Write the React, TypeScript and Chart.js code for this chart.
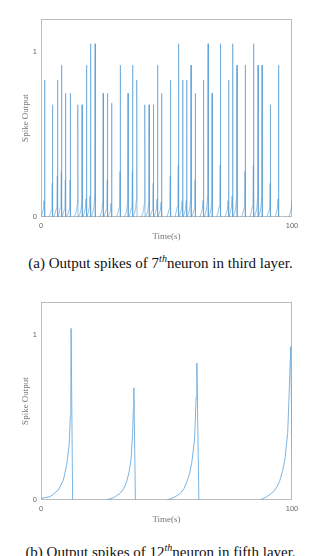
import React, { useEffect, useRef } from "react";
import { Chart, registerables } from "chart.js";

Chart.register(...registerables);

// ---------- data ----------
const X_TICKS = [0, 100];
const Y_TICKS = [0, 1];
const X_MIN = 0;
const X_MAX = 100;
const Y_MIN = 0;
const Y_MAX = 1.2;

// (a) 7th neuron, third layer: spike times (s) and peak outputs
const A_SPIKE_TIMES = [
  1.5, 4.6, 6.6, 8.2, 9.8, 11.7, 14.7, 16.4, 18.2, 19.8, 21.6, 24.8, 26.5, 28.2,
  31.6, 34.7, 36.5, 38.2, 41.4, 43.1, 44.8, 46.5, 48.1, 51.6, 54.8, 56.5, 58.1,
  59.8, 61.5, 64.8, 66.6, 68.2, 71.5, 74.8, 76.4, 78.1, 81.4, 84.7, 86.5, 88.1,
  91.4, 94.7, 100.25,
];
const A_SPIKE_PEAKS = [
  0.83, 0.68, 0.83, 0.92, 0.75, 0.75, 0.68, 0.68, 0.92, 1.05, 1.05, 0.75, 0.75,
  0.69, 0.92, 0.75, 0.92, 0.83, 0.68, 0.68, 0.68, 0.92, 0.75, 0.83, 1.05, 0.83,
  0.83, 0.92, 0.75, 0.83, 1.05, 0.75, 1.05, 0.83, 1.05, 0.92, 0.92, 1.05, 0.92,
  0.92, 0.68, 0.92, 0.9,
];
// shape of one rise (time before the peak, share of the peak), read from (a)
const A_RISE_OFFSETS = [-1.5, -0.9, -0.5, -0.25, -0.1, 0];
const A_RISE_LEVELS = [0, 0.03, 0.06, 0.12, 0.3, 1];
const A_DROP_OFFSET = 0.05;

// (b) 12th neuron, fifth layer: traced curve, null = break
const B_TIMES = [
  0, 3.6, 6.9, 8.9, 10.2, 11.2, 11.7, 11.9, 12.0, 12.6, 12.6,
  26.0, 29, 31.5, 33, 34.1, 35.1, 35.9, 36.5, 36.8, 37.0, 37.6, 37.6,
  50.1, 53, 55.5, 57, 58.1, 59.2, 60.1, 61.2, 61.8, 62.1, 62.9, 62.9,
  87.3, 90, 92.6, 94, 95.2, 96.3, 97.2, 98.3, 98.9, 99.5, 100.3,
];
const B_VALUES = [
  0.01, 0.02, 0.06, 0.12, 0.21, 0.33, 0.51, 0.75, 1.04, 0, null,
  0, 0.015, 0.04, 0.07, 0.11, 0.17, 0.25, 0.41, 0.55, 0.68, 0, null,
  0, 0.015, 0.04, 0.07, 0.11, 0.16, 0.23, 0.37, 0.62, 0.83, 0, null,
  0, 0.02, 0.05, 0.08, 0.12, 0.18, 0.25, 0.41, 0.66, 0.93, 0,
];

// ---------- helpers ----------
const SERIF = "'Liberation Serif', 'Times New Roman', serif";
const SANS = "'Liberation Sans', Arial, sans-serif";

function buildA() {
  const pts: { x: number; y: number | null }[] = [];
  A_SPIKE_TIMES.forEach((t, i) => {
    A_RISE_OFFSETS.forEach((o, k) => {
      pts.push({ x: t + o, y: A_SPIKE_PEAKS[i] * A_RISE_LEVELS[k] });
    });
    pts.push({ x: t + A_DROP_OFFSET, y: 0 });
    pts.push({ x: t + A_DROP_OFFSET, y: null });
  });
  return pts;
}

function buildB() {
  return B_TIMES.map((t, i) => ({ x: t, y: B_VALUES[i] }));
}

const framePlugin = {
  id: "frame",
  beforeDatasetsDraw(chart: any) {
    const { ctx, chartArea } = chart;
    const l = Math.round(chartArea.left) + 0.5;
    const t = Math.round(chartArea.top) + 0.5;
    const r = Math.round(chartArea.right) - 0.5;
    const b = Math.round(chartArea.bottom) - 0.5;
    ctx.save();
    ctx.strokeStyle = "#bcbcbc";
    ctx.lineWidth = 1;
    ctx.strokeRect(l, t, r - l, b - t);
    ctx.restore();
  },
};

function makeConfig(points: any[], color: string): any {
  return {
    type: "line",
    data: {
      datasets: [
        {
          data: points,
          borderColor: color,
          borderWidth: 1,
          pointRadius: 0,
          tension: 0,
          spanGaps: false,
          fill: false,
        },
      ],
    },
    options: {
      responsive: false,
      animation: false,
      events: [],
      layout: { padding: { left: 0, right: 29, top: 19, bottom: 0 } },
      plugins: { legend: { display: false }, tooltip: { enabled: false } },
      scales: {
        x: {
          type: "linear",
          min: X_MIN,
          max: X_MAX,
          grid: { display: false, drawTicks: false },
          border: { display: false },
          afterBuildTicks: (s: any) => {
            s.ticks = X_TICKS.map((v) => ({ value: v }));
          },
          afterFit: (s: any) => {
            s.height = 28;
          },
          ticks: {
            autoSkip: false,
            maxRotation: 0,
            padding: 4,
            color: "#666",
            font: { family: SANS, size: 7.5 },
          },
          title: {
            display: true,
            text: "Time(s)",
            color: "#777",
            font: { family: SERIF, size: 9 },
            padding: { top: 0, bottom: 3 },
          },
        },
        y: {
          type: "linear",
          min: Y_MIN,
          max: Y_MAX,
          grid: { display: false, drawTicks: false },
          border: { display: false },
          afterBuildTicks: (s: any) => {
            s.ticks = Y_TICKS.map((v) => ({ value: v }));
          },
          afterFit: (s: any) => {
            s.width = 41;
          },
          ticks: {
            autoSkip: false,
            padding: 4,
            color: "#666",
            font: { family: SANS, size: 7.5 },
          },
          title: {
            display: true,
            text: "Spike Output",
            color: "#777",
            font: { family: SERIF, size: 9 },
            padding: { top: 20, bottom: 0 },
          },
        },
      },
    },
    plugins: [framePlugin],
  };
}

function SpikeChart({ points, color, top }: { points: any[]; color: string; top: number }) {
  const ref = useRef<HTMLCanvasElement | null>(null);
  useEffect(() => {
    if (!ref.current) return;
    const chart = new Chart(ref.current, makeConfig(points, color));
    return () => chart.destroy();
  }, []);
  return (
    <canvas
      ref={ref}
      width={321}
      height={245}
      style={{ position: "absolute", left: 0, top, width: 321, height: 245 }}
    />
  );
}

const captionStyle = (top: number): React.CSSProperties => ({
  position: "absolute",
  left: 0,
  top,
  width: 321,
  textAlign: "center",
  fontFamily: SERIF,
  fontSize: 15,
  lineHeight: "16px",
  color: "#111",
  whiteSpace: "nowrap",
});

const supStyle: React.CSSProperties = {
  fontSize: 10,
  lineHeight: 0,
  fontStyle: "italic",
  verticalAlign: "super",
};

export default function App() {
  return (
    <div style={{ position: "absolute", left: 0, top: 0, width: 321, height: 556, background: "#fff", overflow: "hidden" }}>
      <SpikeChart points={buildA()} color="rgba(85,155,212,0.6)" top={0} />
      <div style={captionStyle(255)}>
        (a) Output spikes of 7<span style={supStyle}>th</span>neuron in third layer.
      </div>
      <SpikeChart points={buildB()} color="rgba(110,172,222,0.9)" top={283} />
      <div style={captionStyle(544)}>
        (b) Output spikes of 12<span style={supStyle}>th</span>neuron in fifth layer.
      </div>
    </div>
  );
}
